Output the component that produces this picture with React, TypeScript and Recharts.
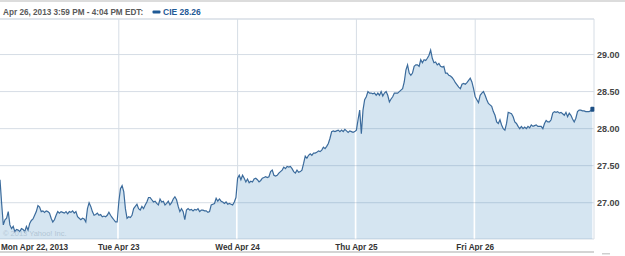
import {
  ComposedChart,
  Area,
  Line,
  XAxis,
  YAxis,
  CartesianGrid,
  ReferenceLine,
} from "recharts";

// CIE intraday, Apr 22 - Apr 26 2013, one row per ~5 min
const mon = [
  27.31, 26.99, 26.7, 26.77, 26.79, 26.88, 26.7, 26.65, 26.68, 26.61, 26.64, 26.63,
  26.61, 26.65, 26.64, 26.61, 26.68, 26.63, 26.72, 26.76, 26.78, 26.83, 26.88, 26.96,
  26.94, 26.88, 26.89, 26.87, 26.89, 26.88, 26.86, 26.79, 26.74, 26.77, 26.83, 26.88,
  26.86, 26.88, 26.87, 26.86, 26.88, 26.85, 26.88, 26.87, 26.89, 26.86, 26.88, 26.81,
  26.79, 26.77, 26.79, 26.78, 26.74, 26.92, 27.0, 26.95, 26.88, 26.83, 26.84, 26.86,
  26.83, 26.84, 26.81, 26.82, 26.81, 26.83, 26.87, 26.83, 26.8, 26.77, 26.74, 26.74,
];
const tue = [
  27.01, 27.19, 27.23, 27.15, 26.92, 26.79, 26.81, 26.8, 26.83, 26.92, 26.95, 26.98,
  26.92, 26.9, 26.95, 26.92, 26.97, 27.01, 27.07, 27.07, 27.04, 27.01, 27.02, 26.99,
  26.97, 27.05, 27.01, 27.02, 26.97, 26.99, 27.02, 26.97, 27.0, 27.05, 27.08, 27.04,
  26.95, 26.88, 26.92, 26.88, 26.77, 26.9, 26.92, 26.9, 26.91, 26.89, 26.91, 26.9,
  26.92, 26.88, 26.9, 26.9, 26.89, 26.89, 26.87, 26.88, 26.97, 26.98, 26.99, 27.06,
  27.02, 27.05, 27.02, 27.01, 26.99, 27.01, 26.98, 26.99, 26.98, 26.97, 27.01, 27.07,
];
const wed = [
  27.33, 27.37, 27.31, 27.37, 27.33, 27.28, 27.32, 27.27, 27.29, 27.28, 27.32, 27.33,
  27.31, 27.28, 27.3, 27.33, 27.34, 27.35, 27.34, 27.35, 27.42, 27.44, 27.37, 27.36,
  27.37, 27.4, 27.42, 27.44, 27.48, 27.46, 27.49, 27.48, 27.49, 27.46, 27.42, 27.4,
  27.44, 27.41, 27.42, 27.44, 27.53, 27.63, 27.6, 27.64, 27.66, 27.64, 27.67, 27.67,
  27.68, 27.7, 27.69, 27.71, 27.75, 27.73, 27.76, 27.8, 27.87, 27.96, 27.97, 27.96,
  27.97, 27.98, 27.96, 27.98, 27.96, 27.99, 27.97, 27.95, 27.97, 27.96, 27.95, 27.96,
];
const thu = [
  27.98, 28.12, 28.25, 27.93, 28.25, 28.39, 28.43, 28.5, 28.48, 28.48, 28.47, 28.48,
  28.45, 28.48, 28.45, 28.5, 28.44, 28.48, 28.5, 28.45, 28.36, 28.4, 28.43, 28.48,
  28.48, 28.48, 28.5, 28.52, 28.54, 28.63, 28.79, 28.86, 28.75, 28.72, 28.75, 28.84,
  28.86, 28.86, 28.84, 28.93, 28.89, 28.93, 28.92, 28.95, 28.99, 29.06, 28.95, 28.89,
  28.9, 28.86, 28.88, 28.84, 28.83, 28.84, 28.75, 28.75, 28.72, 28.71, 28.69, 28.66,
  28.62, 28.59, 28.56, 28.54, 28.6, 28.61, 28.6, 28.62, 28.65, 28.68, 28.63, 28.54,
];
const fri = [
  28.43, 28.39, 28.35, 28.45, 28.48, 28.5, 28.45, 28.39, 28.34, 28.32, 28.3, 28.23,
  28.18, 28.09, 28.07, 28.12, 28.05, 28.0, 27.98, 28.07, 28.22, 28.21, 28.2, 28.16,
  28.09, 28.07, 28.03, 28.0, 28.03, 28.0, 28.02, 28.0, 28.03, 28.01, 28.05, 28.03,
  28.04, 28.05, 28.03, 28.03, 28.03, 28.0, 28.07, 28.11, 28.09, 28.09, 28.12, 28.21,
  28.23, 28.22, 28.23, 28.21, 28.22, 28.2, 28.18, 28.22, 28.16, 28.21, 28.18, 28.13,
  28.09, 28.14, 28.23, 28.25, 28.25, 28.24, 28.24, 28.23, 28.23, 28.23, 28.24, 28.26,
];

const dayLabels = ["Mon Apr 22, 2013", "Tue Apr 23", "Wed Apr 24", "Thu Apr 25", "Fri Apr 26"];
const priceTicks = [27, 27.5, 28, 28.5, 29];
const yDomain = [26.51, 29.48];
const days = [mon, tue, wed, thu, fri];
const STEPS_PER_DAY = 72;

// one row per sample; each day also gets its own key so the fills break at the day lines
const rows = days.flatMap((vals, d) =>
  vals.map((v, i) => ({ t: d + i / STEPS_PER_DAY, price: v, ["a" + d]: v }))
);
const lastIndex = rows.length - 1;

const FONT = "'Liberation Sans', Arial, sans-serif";
const GRID = "#d6dde5";
const LINE = "#3b6b9c";

const DayTick = ({ x, y, payload }: any) => {
  const first = payload.value === 0;
  return (
    <text
      x={first ? x + 1 : x}
      y={y + 11}
      textAnchor={first ? "start" : "middle"}
      fontFamily={FONT}
      fontSize={8.2}
      fontWeight="bold"
      fill="#333"
    >
      {dayLabels[payload.value]}
    </text>
  );
};

const EndDot = (props: any) => {
  if (props.index !== lastIndex) return <g key={props.index} />;
  return (
    <rect
      key={props.index}
      x={props.cx - 2}
      y={props.cy - 2.5}
      width={4}
      height={5}
      rx={1}
      fill="#1d4f85"
    />
  );
};

export default function App() {
  return (
    <div style={{ position: "fixed", left: 0, top: 0, width: 625, height: 256, background: "#fff" }}>
      <ComposedChart
        width={625}
        height={256}
        data={rows}
        margin={{ top: 19, right: 0, bottom: 0, left: 0 }}
      >
        <CartesianGrid vertical={false} stroke={GRID} />
        <XAxis
          dataKey="t"
          type="number"
          domain={[0, 5]}
          ticks={[0, 1, 2, 3, 4]}
          axisLine={false}
          tickLine={false}
          tickSize={0}
          tickMargin={0}
          height={17}
          tick={<DayTick />}
          interval={0}
        />
        <YAxis
          orientation="right"
          domain={yDomain}
          ticks={priceTicks}
          allowDataOverflow
          axisLine={false}
          tickLine={false}
          tickSize={0}
          tickMargin={3}
          width={31}
          tickFormatter={(v: number) => v.toFixed(2)}
          tick={{ fontFamily: FONT, fontSize: 9, fontWeight: "bold", fill: "#444" }}
        />
        <ReferenceLine y={yDomain[1]} stroke={GRID} />
        <ReferenceLine x={5} stroke={GRID} />
        {[1, 2, 3, 4].map((d) => (
          <ReferenceLine
            key={"v" + d}
            segment={[
              { x: d, y: yDomain[1] },
              { x: d, y: days[d][0] },
            ]}
            stroke={GRID}
          />
        ))}
        {days.map((_, d) => (
          <Area
            key={"a" + d}
            dataKey={"a" + d}
            type="linear"
            stroke="none"
            fill="rgb(45,125,185)"
            fillOpacity={0.2}
            isAnimationActive={false}
            activeDot={false}
          />
        ))}
        <Line
          dataKey="price"
          type="linear"
          stroke={LINE}
          strokeWidth={1.2}
          dot={EndDot}
          activeDot={false}
          isAnimationActive={false}
        />
      </ComposedChart>
      <svg
        width={625}
        height={256}
        style={{ position: "absolute", left: 0, top: 0, pointerEvents: "none" }}
      >
        <rect x={0} y={0} width={625} height={2} fill="#dcdcdc" />
        <text x={3} y={15} fontFamily={FONT} fontSize={8.2} fontWeight="bold" fill="#5a5a5a">
          Apr 26, 2013 3:59 PM - 4:04 PM EDT:
        </text>
        <rect x={152.5} y={10.5} width={8} height={3} rx={1} fill="#1f5a96" />
        <text x={163} y={15} fontFamily={FONT} fontSize={8.5} fontWeight="bold" fill="#1f5a96">
          CIE 28.26
        </text>
        <text x={3} y={236} fontFamily={FONT} fontSize={7.5} fill="#b3c5d5">
          © 2013 Yahoo! Inc.
        </text>
        <rect x={0} y={251} width={594} height={2} fill="#d4d4d4" />
        <rect x={602} y={253} width={8} height={1.5} fill="#cfcfcf" />
      </svg>
    </div>
  );
}
